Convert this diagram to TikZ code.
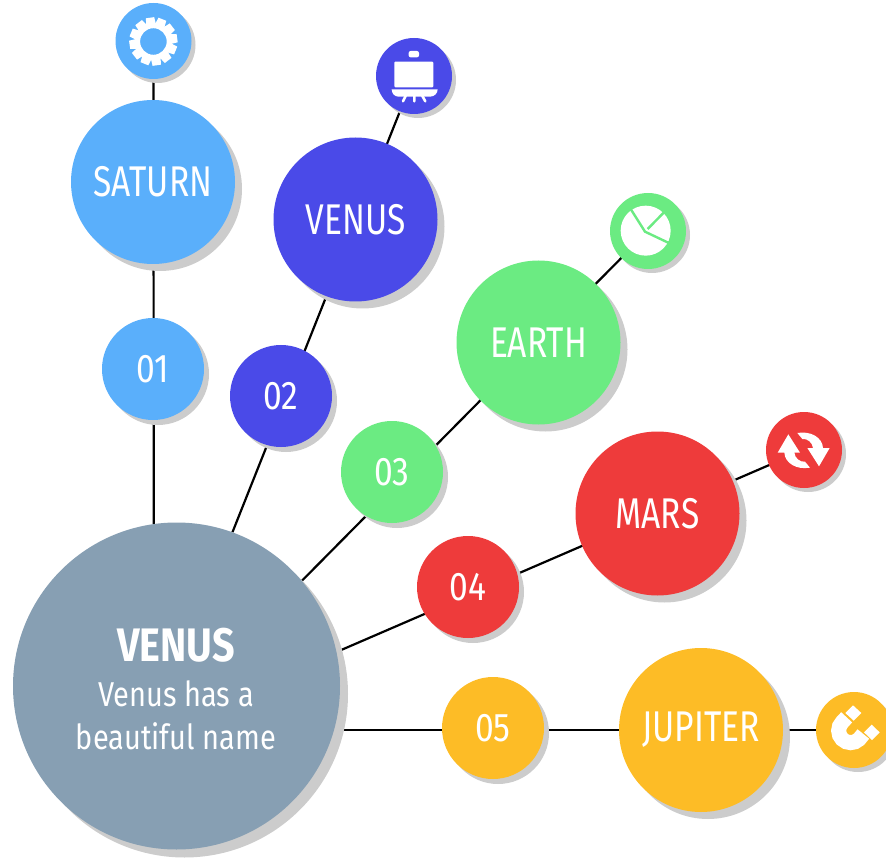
\documentclass[tikz,border=0pt]{standalone}
\usepackage{fontspec}
\setmainfont{Fira Sans}[FakeStretch=0.84]
\newfontfamily\planetfont{Fira Sans}[FakeStretch=0.78]
\usetikzlibrary{shadows,backgrounds}
\definecolor{cblue}{HTML}{5AAFFB}
\definecolor{cindigo}{HTML}{4A4AE8}
\definecolor{cgreen}{HTML}{6BEB82}
\definecolor{cred}{HTML}{EE3B3B}
\definecolor{cyellow}{HTML}{FDBC26}
\definecolor{cmain}{HTML}{879FB3}
\definecolor{cshadow}{HTML}{CCCCCC}
\tikzset{
  disc/.style 2 args={circle,fill=#1,inner sep=0pt,minimum size=#2,text=white,align=center,
    font=\fontsize{40}{44}\selectfont},
  shd/.style={general shadow={shadow xshift=#1,shadow yshift=-#1,fill=cshadow}},
  planet/.style={disc={#1}{164pt},shd=7pt,font=\planetfont\fontsize{43}{46}\selectfont},
  num/.style={disc={#1}{102pt},shd=5pt},
  icn/.style={disc={#1}{76pt},shd=4pt},
  link/.style={line width=2.2pt,black},
  mainlabel/.style={text=white,inner sep=0pt,font=\fontsize{34.5}{40}\selectfont}
}
\begin{document}
\begin{tikzpicture}[x=1pt,y=-1pt]
\clip (0,0) rectangle (886,858);
\node[disc={cmain}{327pt},shd=8pt] (main) at (176.5,686) {};
\node[mainlabel,font=\fontsize{47}{50}\selectfont\bfseries] (maintitle) at (176,645) {VENUS};
\node[mainlabel] (mainline1) at (176,694) {Venus has a};
\node[mainlabel] (mainline2) at (176,736) {beautiful name};
\node[num={cblue}] (n1) at (153,369) {01};
\node[num={cindigo}] (n2) at (281,396) {02};
\node[num={cgreen}] (n3) at (392,472) {03};
\node[num={cred}] (n4) at (468,587) {04};
\node[num={cyellow}] (n5) at (493,728) {05};
\node[planet={cblue}] (saturn) at (153,182) {SATURN};
\node[planet={cindigo}] (venus) at (355.5,219.5) {VENUS};
\node[planet={cgreen}] (earth) at (538.5,342.5) {EARTH};
\node[planet={cred}] (mars) at (657.5,513.5) {MARS};
\node[planet={cyellow}] (jupiter) at (701,730) {JUPITER};
\node[icn={cblue}] (i1) at (153.5,41) {};
\node[icn={cindigo}] (i2) at (414,76) {};
\node[icn={cgreen}] (i3) at (648,231) {};
\node[icn={cred}] (i4) at (804,450) {};
\node[icn={cyellow}] (i5) at (854,730) {};
\coordinate (c5) at (main.center |- i5.center);
\begin{scope}[on background layer]
\draw[link] (main.98) -- (i1.south);
\draw[link] (main.70) -- (i2.center);
\draw[link] (main.40) -- (i3.center);
\draw[link] (main.12.6) -- (i4.center);
\draw[link] (c5) -- (i5.center);
\end{scope}
% gear
\begin{scope}[shift={(153.4,41.5)}]
\foreach \a in {0,30,...,330}{
  \fill[white,rotate=\a+8] (-4.2,-24) -- (4.2,-24) -- (5,-16) -- (-5,-16) -- cycle;
}
\fill[white,even odd rule] (0,0) circle (18.5) (0,0) circle (13.3);
\end{scope}
% easel
\begin{scope}[shift={(365,30)},scale=1/3]
\fill[white,rounded corners=2pt] (131,63) rectangle (162,82);
\fill[white,rounded corners=1pt] (88,95) rectangle (205,172);
\fill[white] (80,178) -- (218,178) to[out=-90,in=0] (195,200) -- (100,200) to[out=180,in=-90] (80,178) -- cycle;
\draw[white,line width=2.6pt,line cap=round] (122,198) -- (114,214) (148,198) -- (148,214) (172,198) -- (181,214);
\end{scope}
% pie
\begin{scope}[shift={(600,185)},scale=1/3]
\fill[white] (137,137) circle (75);
\draw[cgreen,line width=2.4pt] (92,72) -- (135,140) -- (215,178);
\draw[cgreen,line width=2.4pt] (143,132) -- (194,80);
\end{scope}
% recycle
\begin{scope}[shift={(755,405)},scale=1/3]
\foreach \r in {0,180}{
\begin{scope}[rotate around={\r:(146,136)}]
\fill[white] (100,88) -- (135,143) -- (118,143) .. controls (120,160) and (135,172) .. (150,170) -- (165,188) .. controls (125,195) and (90,175) .. (88,143) -- (68,143) -- cycle;
\end{scope}}
\end{scope}
% magnet
\begin{scope}[shift={(800,680)},scale=1/3]
\draw[white,line width=15pt] (140,112) -- (126.5,126.5) arc[start angle=225,end angle=45,radius=36] -- (190,162);
\fill[white] (136,99) -- (159,76) -- (184,99) -- (161,122) -- cycle;
\fill[white] (192,157) -- (215,134) -- (239,157) -- (216,180) -- cycle;
\end{scope}
\end{tikzpicture}
\end{document}
